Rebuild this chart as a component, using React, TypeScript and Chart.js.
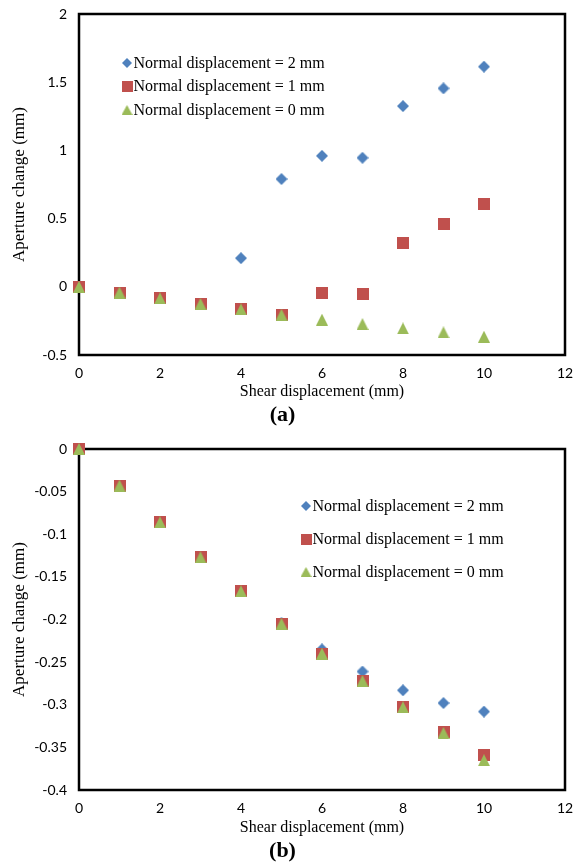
import React, { useEffect, useRef } from 'react';
import { Chart, registerables } from 'chart.js';

Chart.register(...registerables);

// ---------------- data ----------------
const shearX = [0, 1, 2, 3, 4, 5, 6, 7, 8, 9, 10];
const xTicks = [0, 2, 4, 6, 8, 10, 12];
const xTickLabels = ['0', '2', '4', '6', '8', '10', '12'];
const legendLabels = [
  'Normal displacement = 2 mm',
  'Normal displacement = 1 mm',
  'Normal displacement = 0 mm',
];
const xTitle = 'Shear displacement (mm)';
const yTitle = 'Aperture change (mm)';

// panel (a)
const aNd2 = [0, -0.042, -0.085, -0.126, 0.21, 0.79, 0.96, 0.946, 1.325, 1.455, 1.614];
const aNd1 = [0, -0.042, -0.085, -0.126, -0.166, -0.205, -0.043, -0.055, 0.323, 0.458, 0.61];
const aNd0 = [0, -0.042, -0.085, -0.126, -0.166, -0.205, -0.241, -0.273, -0.305, -0.334, -0.366];
const aYTicks = [-0.5, 0, 0.5, 1, 1.5, 2];
const aYTickLabels = ['-0.5', '0', '0.5', '1', '1.5', '2'];
const aCaption = '(a)';

// panel (b)
const bNd2 = [0, -0.043, -0.086, -0.127, -0.167, -0.204, -0.235, -0.261, -0.283, -0.298, -0.308];
const bNd1 = [0, -0.043, -0.086, -0.127, -0.167, -0.205, -0.24, -0.272, -0.303, -0.332, -0.359];
const bNd0 = [0, -0.043, -0.086, -0.127, -0.167, -0.205, -0.24, -0.272, -0.303, -0.333, -0.365];
const bYTicks = [-0.4, -0.35, -0.3, -0.25, -0.2, -0.15, -0.1, -0.05, 0];
const bYTickLabels = ['-0.4', '-0.35', '-0.3', '-0.25', '-0.2', '-0.15', '-0.1', '-0.05', '0'];
const bCaption = '(b)';

// ---------------- styling ----------------
const BLUE = '#4F81BD';
const RED = '#C0504D';
const GREEN = '#9BBB59';
const SERIF = '"Liberation Serif", "Times New Roman", serif';
const SANS = 'Lato, "Open Sans", sans-serif';

function makeMarker(shape: string, color: string, w: number, h: number) {
  const c = document.createElement('canvas');
  c.width = w;
  c.height = h;
  const ctx = c.getContext('2d') as CanvasRenderingContext2D;
  ctx.fillStyle = color;
  ctx.beginPath();
  if (shape === 'diamond') {
    ctx.moveTo(w / 2, 0);
    ctx.lineTo(w, h / 2);
    ctx.lineTo(w / 2, h);
    ctx.lineTo(0, h / 2);
  } else if (shape === 'square') {
    ctx.rect(0, 0, w, h);
  } else {
    ctx.moveTo(w / 2, 0);
    ctx.lineTo(w, h);
    ctx.lineTo(0, h);
  }
  ctx.closePath();
  ctx.fill();
  return c;
}

type PanelSpec = {
  series: number[][];
  yTicks: number[];
  yLabels: string[];
  caption: string;
  height: number;
  padTop: number;
  captionPadBottom: number;
  xScaleHeight: number;
  legendDx: number;
  legendDy: number;
  legendGap: number;
};

function buildChart(canvas: HTMLCanvasElement, spec: PanelSpec) {
  const colors = [BLUE, RED, GREEN];
  const pointImgs = [
    makeMarker('diamond', BLUE, 12, 12),
    makeMarker('square', RED, 12, 12),
    makeMarker('triangle', GREEN, 12, 12),
  ];
  const legendImgs = [
    makeMarker('diamond', BLUE, 10, 10),
    makeMarker('square', RED, 11, 11),
    makeMarker('triangle', GREEN, 11, 10),
  ];

  const datasets = spec.series.map((vals, i) => ({
    label: legendLabels[i],
    data: shearX.map((x, j) => ({ x, y: vals[j] })),
    pointStyle: pointImgs[i],
    pointRadius: 6,
    pointBorderWidth: 0,
    backgroundColor: colors[i],
    borderColor: colors[i],
    showLine: false,
    clip: false as any,
    order: 2 - i,
  }));

  const framePlugin = {
    id: 'frame',
    beforeDatasetsDraw(chart: any) {
      const { ctx, chartArea } = chart;
      ctx.save();
      ctx.strokeStyle = '#000';
      ctx.lineWidth = 2.5;
      ctx.strokeRect(chartArea.left, chartArea.top, chartArea.right - chartArea.left, chartArea.bottom - chartArea.top);
      ctx.restore();
    },
  };

  const legendPlugin = {
    id: 'innerLegend',
    afterDraw(chart: any) {
      const { ctx, chartArea } = chart;
      ctx.save();
      ctx.font = `16px ${SERIF}`;
      ctx.fillStyle = '#000';
      ctx.textBaseline = 'middle';
      ctx.textAlign = 'left';
      legendLabels.forEach((label, i) => {
        const cx = chartArea.left + spec.legendDx;
        const cy = chartArea.top + spec.legendDy + i * spec.legendGap;
        const img = legendImgs[i];
        ctx.drawImage(img, cx - img.width / 2, cy - img.height / 2);
        ctx.fillText(label, cx + 6.5, cy + 0.5);
      });
      ctx.restore();
    },
  };

  const yMin = spec.yTicks[0];
  const yMax = spec.yTicks[spec.yTicks.length - 1];

  return new Chart(canvas, {
    type: 'scatter',
    data: { datasets },
    plugins: [framePlugin, legendPlugin],
    options: {
      responsive: false,
      maintainAspectRatio: false,
      devicePixelRatio: 1,
      animation: false,
      events: [],
      layout: { padding: { top: spec.padTop, right: 9, bottom: 0, left: 0 } },
      plugins: {
        legend: { display: false },
        tooltip: { enabled: false },
        title: {
          display: true,
          position: 'bottom',
          text: spec.caption,
          color: '#000',
          font: { family: SERIF, size: 22, weight: 'bold', lineHeight: 1.2 },
          padding: { top: 0, bottom: spec.captionPadBottom },
        },
      },
      scales: {
        x: {
          type: 'linear',
          min: xTicks[0],
          max: xTicks[xTicks.length - 1],
          grid: { display: false, drawTicks: false },
          border: { display: false },
          afterBuildTicks: (scale: any) => {
            scale.ticks = xTicks.map((v) => ({ value: v }));
          },
          afterFit: (scale: any) => {
            scale.height = spec.xScaleHeight;
            scale.paddingLeft = 0;
            scale.paddingRight = 0;
            scale.paddingTop = 0;
            scale.paddingBottom = 0;
          },
          ticks: {
            padding: 10,
            color: '#000',
            font: { family: SANS, size: 14 },
            maxRotation: 0,
            callback: (v: any) => {
              const k = xTicks.findIndex((t) => Math.abs(t - Number(v)) < 1e-9);
              return k >= 0 ? xTickLabels[k] : '';
            },
          },
          title: {
            display: true,
            text: xTitle,
            color: '#000',
            font: { family: SERIF, size: 16, lineHeight: 1.2 },
            padding: { top: 0, bottom: 1 },
          },
        },
        y: {
          type: 'linear',
          min: yMin,
          max: yMax,
          grid: { display: false, drawTicks: false },
          border: { display: false },
          afterBuildTicks: (scale: any) => {
            scale.ticks = spec.yTicks.map((v) => ({ value: v }));
          },
          afterFit: (scale: any) => {
            scale.width = 79;
            scale.paddingLeft = 0;
            scale.paddingRight = 0;
            scale.paddingTop = 0;
            scale.paddingBottom = 0;
          },
          ticks: {
            padding: 12,
            color: '#000',
            font: { family: SANS, size: 14 },
            callback: (v: any) => {
              const k = spec.yTicks.findIndex((t) => Math.abs(t - Number(v)) < 1e-9);
              return k >= 0 ? spec.yLabels[k] : '';
            },
          },
          title: {
            display: true,
            text: yTitle,
            color: '#000',
            font: { family: SERIF, size: 17, lineHeight: 1.2 },
            padding: { top: 9, bottom: 0 },
          },
        },
      },
    } as any,
  });
}

const panelA: PanelSpec = {
  series: [aNd2, aNd1, aNd0],
  yTicks: aYTicks,
  yLabels: aYTickLabels,
  caption: aCaption,
  height: 432,
  padTop: 14,
  captionPadBottom: 3,
  xScaleHeight: 47.6,
  legendDx: 48,
  legendDy: 49,
  legendGap: 23.5,
};

const panelB: PanelSpec = {
  series: [bNd2, bNd1, bNd0],
  yTicks: bYTicks,
  yLabels: bYTickLabels,
  caption: bCaption,
  height: 433,
  padTop: 17,
  captionPadBottom: 0,
  xScaleHeight: 48.6,
  legendDx: 227,
  legendDy: 57,
  legendGap: 33,
};

function Panel({ spec }: { spec: PanelSpec }) {
  const ref = useRef<HTMLCanvasElement | null>(null);
  useEffect(() => {
    if (!ref.current) return;
    const chart = buildChart(ref.current, spec);
    return () => chart.destroy();
  }, [spec]);
  return (
    <canvas
      ref={ref}
      width={574}
      height={spec.height}
      style={{ display: 'block', width: 574, height: spec.height }}
    />
  );
}

export default function App() {
  useEffect(() => {
    document.body.style.margin = '0';
    document.body.style.background = '#fff';
  }, []);
  return (
    <div style={{ width: 574, height: 865, background: '#fff' }}>
      <Panel spec={panelA} />
      <Panel spec={panelB} />
    </div>
  );
}
